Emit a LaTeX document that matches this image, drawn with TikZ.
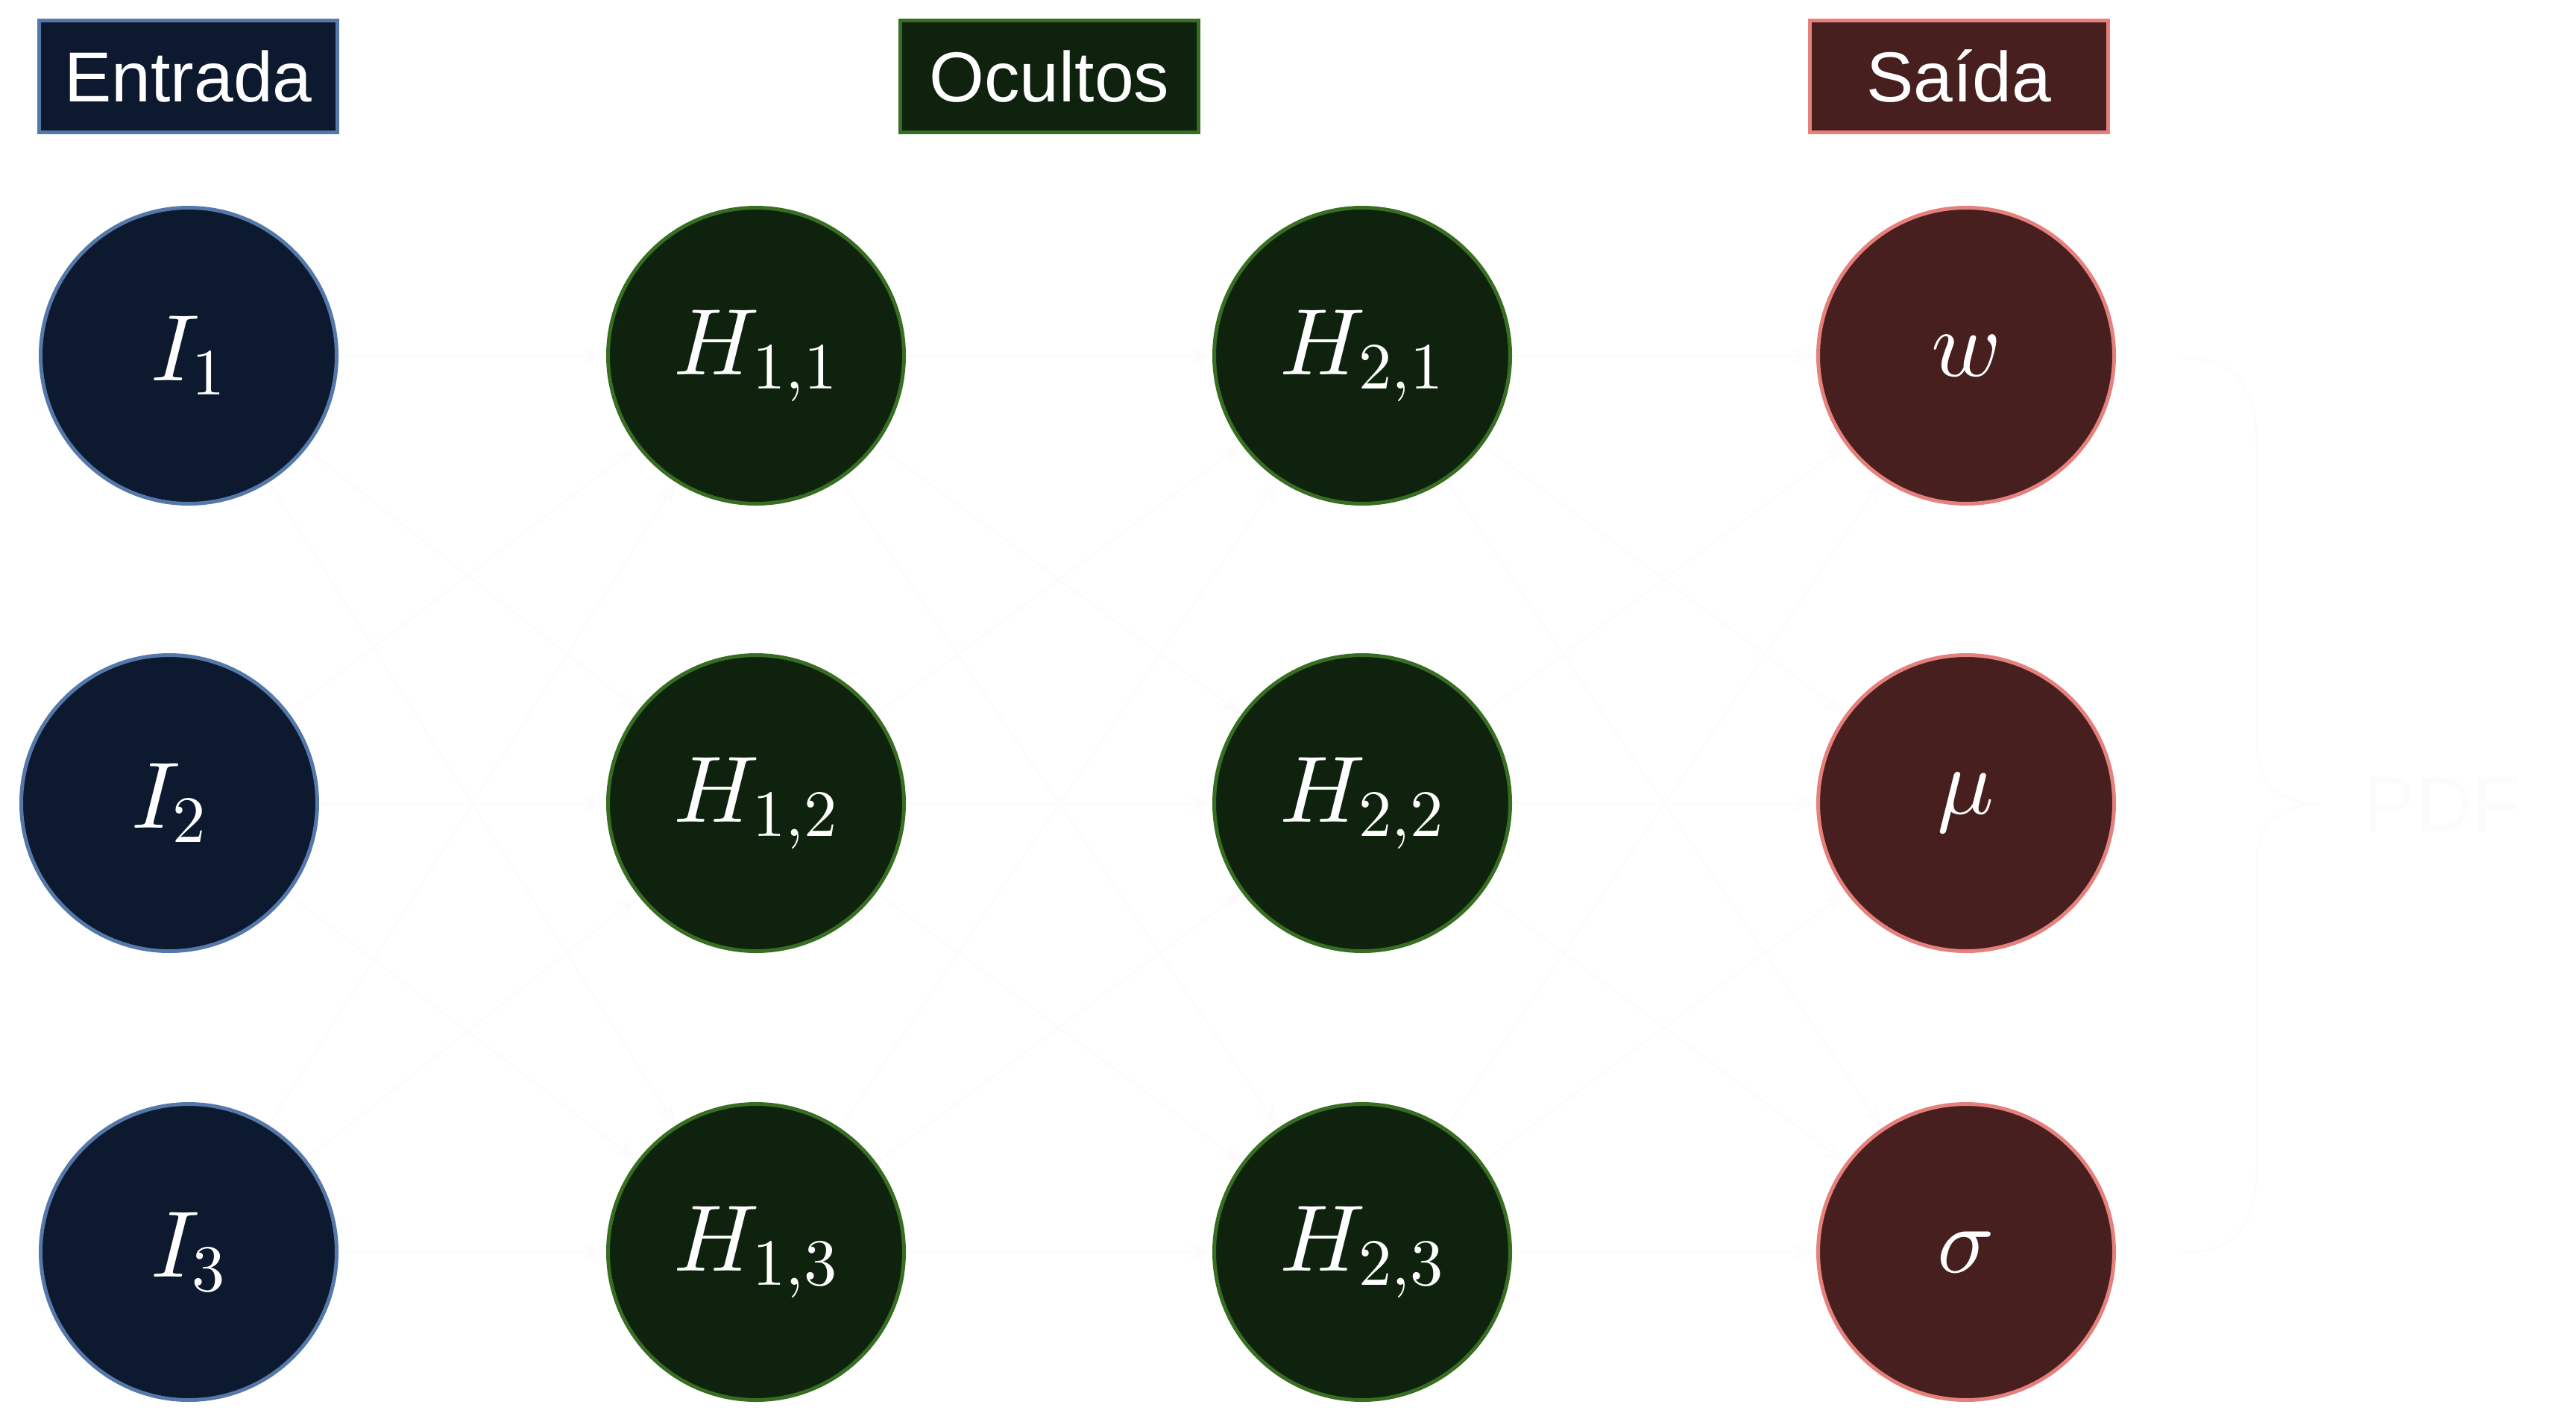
\documentclass[tikz,border=0pt]{standalone}
\usepackage{fix-cm}
\usepackage{fontspec}
\setmainfont{Liberation Sans}
\usetikzlibrary{arrows.meta}
\DeclareFontShape{OML}{cmm}{m}{it}{<-> cmmi10}{}
\DeclareFontShape{OT1}{cmr}{m}{n}{<-> cmr10}{}
\DeclareFontShape{OMS}{cmsy}{m}{n}{<-> cmsy10}{}
\definecolor{infill}{RGB}{12,25,46}
\definecolor{inborder}{RGB}{85,120,170}
\definecolor{hidfill}{RGB}{14,34,14}
\definecolor{hidborder}{RGB}{56,110,34}
\definecolor{outfill}{RGB}{70,31,30}
\definecolor{outborder}{RGB}{230,128,124}
\definecolor{edgecol}{RGB}{254,251,254}
\tikzset{
  neuron/.style={circle, minimum size=3.97cm, inner sep=0pt, line width=0.05cm, text=white, font=\fontsize{36}{42}\selectfont},
  innode/.style={neuron, draw=inborder, fill=infill},
  hidnode/.style={neuron, draw=hidborder, fill=hidfill},
  outnode/.style={neuron, draw=outborder, fill=outfill},
  header/.style={rectangle, minimum width=4.0cm, minimum height=1.5cm, line width=0.05cm, text=white, font=\fontsize{27}{32}\selectfont},
  conn/.style={draw=edgecol, line width=0.03cm, -{Stealth[length=0.3cm,width=0.22cm]}},
  bracestyle/.style={draw=edgecol, line width=0.03cm}
}
\begin{document}
\begin{tikzpicture}
\useasboundingbox (0,0) rectangle (34.55,-19.10);
% headers
\node[header, draw=inborder, fill=infill] (hin) at (2.525,-1.025) {Entrada};
\node[header, draw=hidborder, fill=hidfill] (hhid) at (14.075,-1.025) {Ocultos};
\node[header, draw=outborder, fill=outfill] (hout) at (26.27,-1.025) {Saída};
% invisible anchors for the neurons
\foreach \n/\x/\y in {i1/2.53/-4.77,i2/2.27/-10.77,i3/2.53/-16.79,h11/10.14/-4.77,h12/10.14/-10.77,h13/10.14/-16.79,h21/18.27/-4.77,h22/18.27/-10.77,h23/18.27/-16.79,ow/26.37/-4.77,omu/26.37/-10.77,osig/26.37/-16.79}{
  \node[circle, minimum size=4.02cm, inner sep=0pt] (\n) at (\x,\y) {};
}
% connectors (near white)
\foreach \a in {i1,i2,i3}{\foreach \b in {h11,h12,h13}{\draw[conn] (\a) -- (\b);}}
\foreach \a in {h11,h12,h13}{\foreach \b in {h21,h22,h23}{\draw[conn] (\a) -- (\b);}}
\foreach \a in {h21,h22,h23}{\foreach \b in {ow,omu,osig}{\draw[conn] (\a) -- (\b);}}
% brace
\coordinate (btop) at (29.27,-4.80);
\coordinate (bbot) at (29.27,-16.80);
\coordinate (btip) at (31.12,-10.78);
\draw[bracestyle] (btop) .. controls (30.0,-4.80) and (30.27,-5.2) .. (30.27,-6.0)
  -- (30.27,-10.0) .. controls (30.27,-10.55) and (30.6,-10.78) .. (btip);
\draw[bracestyle] (bbot) .. controls (30.0,-16.80) and (30.27,-16.4) .. (30.27,-15.6)
  -- (30.27,-11.56) .. controls (30.27,-11.01) and (30.6,-10.78) .. (btip);
\node[anchor=base west, inner sep=0pt, text=edgecol, font=\fontsize{30}{36}\selectfont] (pdf) at (31.69,-11.15) {PDF};
% neurons with labels
\node[innode] (ni1) at (i1.center) {$I_1$};
\node[innode] (ni2) at (i2.center) {$I_2$};
\node[innode] (ni3) at (i3.center) {$I_3$};
\node[hidnode] (nh11) at (h11.center) {$H_{1,1}$};
\node[hidnode] (nh12) at (h12.center) {$H_{1,2}$};
\node[hidnode] (nh13) at (h13.center) {$H_{1,3}$};
\node[hidnode] (nh21) at (h21.center) {$H_{2,1}$};
\node[hidnode] (nh22) at (h22.center) {$H_{2,2}$};
\node[hidnode] (nh23) at (h23.center) {$H_{2,3}$};
\node[outnode] (now) at (ow.center) {$w$};
\node[outnode] (nomu) at (omu.center) {$\mu$};
\node[outnode] (nosig) at (osig.center) {$\sigma$};
\end{tikzpicture}
\end{document}
